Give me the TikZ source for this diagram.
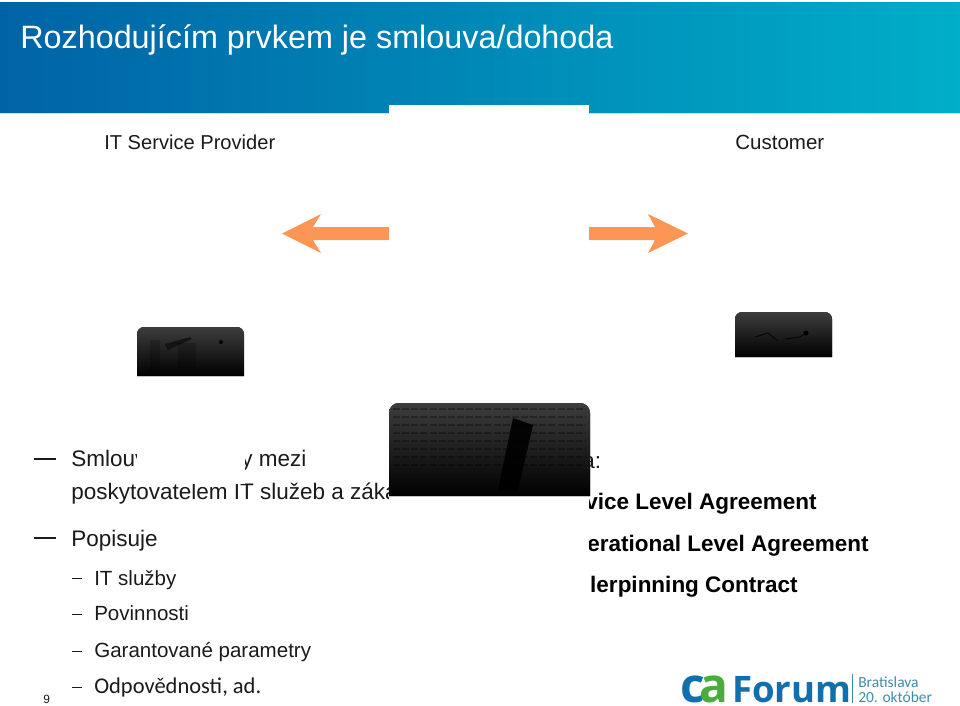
\documentclass[tikz,border=0pt]{standalone}
\usepackage{fontspec}
\setmainfont{Liberation Sans}
\newfontfamily\bodyfont{Carlito}
\newfontfamily\logofont{Open Sans}
\definecolor{bandleft}{HTML}{0063A6}
\definecolor{bandmid}{HTML}{0090BE}
\definecolor{bandright}{HTML}{00AEC8}
\definecolor{bandline}{HTML}{BFE6EF}
\definecolor{arrowfill}{HTML}{FB9654}
\definecolor{textdark}{HTML}{1A1A1A}
\definecolor{logoblue}{HTML}{1170AC}
\definecolor{logogreen}{HTML}{4CAB3F}
\definecolor{logogrey}{HTML}{3F8CA6}
\tikzset{
    txt/.style={anchor=base west, inner sep=0pt, text=textdark},
    big/.style={txt, font=\fontsize{16}{18}\selectfont},
    small/.style={txt, font=\fontsize{14.6}{16}\selectfont},
    strong/.style={anchor=base east, inner sep=0pt, text=black, font=\fontsize{16}{18}\selectfont\bfseries},
    mask/.style={fill=white, draw=none},
    photo/.style={top color=black!76, bottom color=black, draw=none},
    logotxt/.style={txt, text depth=0pt, text height=8pt},
}
\begin{document}
\begin{tikzpicture}[x=0.025cm, y=-0.025cm]
    \useasboundingbox (0, 0) rectangle (960, 705);
    % header band
    \fill[left color=bandleft, middle color=bandmid, right color=bandright] (0, 2) rectangle (960, 113);
    \fill[bandline] (0, 113) rectangle (960, 114);
    \node[txt, text=white, font=\fontsize{23}{26}\selectfont] (title) at (20, 48) {Rozhodujícím prvkem je smlouva/dohoda};
    % labels
    \node[txt, font=\fontsize{14.3}{16}\selectfont] (provider) at (104, 149) {IT Service Provider};
    \node[txt, font=\fontsize{14.6}{16}\selectfont] (customer) at (735, 149) {Customer};
    % arrows
    \fill[arrowfill] (389, 227) -- (313, 227) -- (321, 214) -- (282, 233.5) -- (321, 253) -- (313, 240) -- (389, 240) -- cycle;
    \fill[arrowfill] (589, 227) -- (655, 227) -- (648, 214) -- (688, 233.5) -- (648, 253) -- (655, 240) -- (589, 240) -- cycle;
    % left text
    \draw[textdark, thick] (34, 459) -- (56, 459);
    \draw[textdark, thick] (34, 538) -- (56, 538);
    \node[big] (smlouva) at (71, 466) {Smlouv};
    \node[big] (mezi) at (241, 466) {y mezi};
    \node[big] (poskyt) at (71, 499) {poskytovatelem IT služeb a záka};
    \node[big] (popisuje) at (71, 546) {Popisuje};
    \draw[textdark] (72, 578) -- (82, 578);
    \draw[textdark] (72, 614) -- (82, 614);
    \draw[textdark] (72, 651) -- (82, 651);
    \draw[textdark] (72, 687) -- (82, 687);
    \node[small] (sluzby) at (94, 585) {IT služby};
    \node[small] (povinnosti) at (94, 620) {Povinnosti};
    \node[small] (parametry) at (94, 657) {Garantované parametry};
    \node[txt, font=\bodyfont\fontsize{16}{18}\selectfont] (odpovednosti) at (94, 693) {Odpovědnosti, ad.};
    \node[txt, font=\fontsize{8.5}{10}\selectfont] (page) at (43, 703) {9};
    % right text
    \node[big] (colon) at (582, 468) {a:};
    \node[strong] (sla) at (817, 509) {vice Level Agreement};
    \node[strong] (ola) at (869, 551) {erational Level Agreement};
    \node[strong] (uc) at (798, 592) {lerpinning Contract};
    % white parts lying over the text
    \fill[mask] (389, 105) rectangle (589, 600);
    \fill[mask] (137, 377) rectangle (245, 484);
    % photos
    \fill[photo] (137, 376) [rounded corners=5pt] -- (137, 327) -- (244, 327) [sharp corners] -- (244, 376) -- cycle;
    \fill[black, opacity=.5] (165, 344) -- (190, 337) -- (192, 339) -- (168, 350) -- cycle;
    \fill[black, opacity=.2] (150, 340) rectangle (160, 372);
    \fill[black, opacity=.2] (178, 343) rectangle (196, 368);
    \fill[black] (221, 342) circle (2);
    \fill[photo] (735, 357) [rounded corners=5pt] -- (735, 312) -- (832, 312) [sharp corners] -- (832, 357) -- cycle;
    \draw[black, thick, opacity=.7] (755, 337) -- (768, 333) -- (778, 341);
    \draw[black, thick, opacity=.7] (785, 339) -- (800, 337) -- (806, 333);
    \fill[black] (806, 333) circle (2.5);
    \fill[photo] (389, 496) [rounded corners=7pt] -- (389, 403) -- (590, 403) [sharp corners] -- (590, 496) -- cycle;
    \foreach \y in {409, 417, 425, 433, 441, 449, 457, 465}
        \draw[black, opacity=.3, line width=1.5pt, dash pattern=on 5pt off 1.5pt] (393, \y) -- (586, \y);
    \fill[black, opacity=.9] (513, 418) -- (533, 425) -- (518, 490) -- (498, 490) -- cycle;
    % logo
    \node[logotxt, text=logoblue, font=\logofont\fontsize{34}{36}\selectfont\bfseries] (logoc) at (680, 702) {c};
    \node[logotxt, text=logogreen, font=\logofont\fontsize{34}{36}\selectfont\bfseries] (logoa) at (699, 702) {a};
    \node[logotxt, text=logoblue, font=\logofont\fontsize{26}{30}\selectfont\bfseries] (forum) at (732, 702) {Forum};
    \draw[logogrey, semithick] (852, 674) -- (852, 703);
    \node[logotxt, text=logogrey, font=\bodyfont\fontsize{11}{13}\selectfont] (city) at (858, 687) {Bratislava};
    \node[logotxt, text=logogrey, font=\bodyfont\fontsize{11}{13}\selectfont] (date) at (858, 702) {20. október};
\end{tikzpicture}
\end{document}
